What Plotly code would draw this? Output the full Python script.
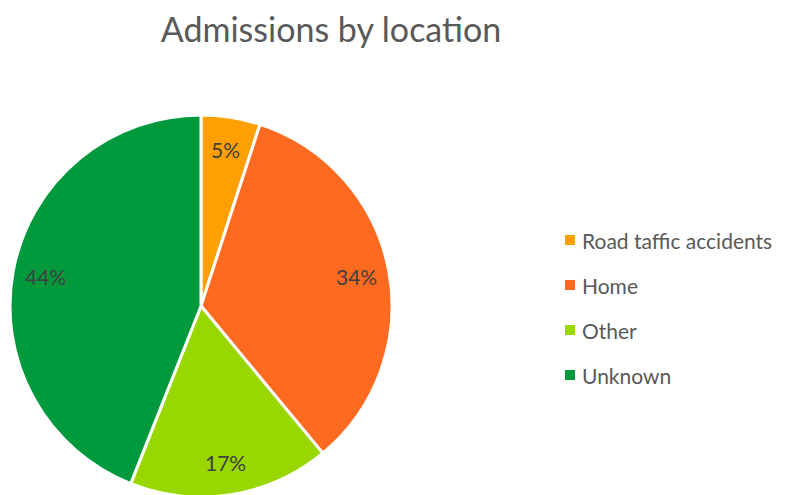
import math
import plotly.graph_objects as go

labels = ["Road taffic accidents", "Home", "Other", "Unknown"]
values = [5, 34, 17, 44]
colors = ["#FFA000", "#FF6A21", "#99D700", "#009A3D"]

W, H = 787, 495
OFF = 8  # default body margin of the html page
TEXT = "#595959"
FONT = "Lato, 'Open Sans', sans-serif"


def px(x):
    return (x - OFF) / W


def py(y):
    return 1 - (y - OFF) / H


# pie geometry in screen pixels
cx, top, r = 201, 115, 191
cy = top + r

fig = go.Figure(go.Pie(
    labels=labels, values=values, sort=False, direction="clockwise", rotation=0,
    marker=dict(colors=colors, line=dict(color="white", width=3)),
    textinfo="none", hoverinfo="label+percent",
    domain=dict(x=[px(cx - r), px(cx + r)], y=[py(top + 2 * r), py(top)]),
    showlegend=False,
))

# percent labels placed along each slice bisector
total = sum(values)
cum = 0
for v in values:
    mid = (cum + v / 2) / total
    cum += v
    a = 2 * math.pi * mid
    lx = cx + 0.83 * r * math.sin(a)
    ly = cy - 0.83 * r * math.cos(a)
    fig.add_annotation(x=px(lx), y=py(ly), xref="paper", yref="paper",
                       xanchor="center", yanchor="middle",
                       text=f"{round(100 * v / total)}%", showarrow=False,
                       font=dict(size=21, color="#404040", family=FONT))

# legend drawn by hand to keep Excel-like spacing
for i, (lab, col) in enumerate(zip(labels, colors)):
    ly = 240 + 45 * i
    fig.add_shape(type="rect", xref="paper", yref="paper",
                  x0=px(565), x1=px(575), y0=py(ly + 5), y1=py(ly - 5),
                  fillcolor=col, line=dict(width=0))
    fig.add_annotation(x=px(580), y=py(ly), xref="paper", yref="paper",
                       text=lab, showarrow=False, xanchor="left", yanchor="middle",
                       font=dict(size=21, color=TEXT, family=FONT))

fig.update_layout(
    width=W, height=H,
    title=dict(text="Admissions by location", x=px(331), xanchor="center", y=py(30), yanchor="middle",
               font=dict(size=34, color=TEXT, family=FONT)),
    margin=dict(l=0, r=0, t=0, b=0),
    paper_bgcolor="white", plot_bgcolor="white",
)

fig.write_html("out.html")
